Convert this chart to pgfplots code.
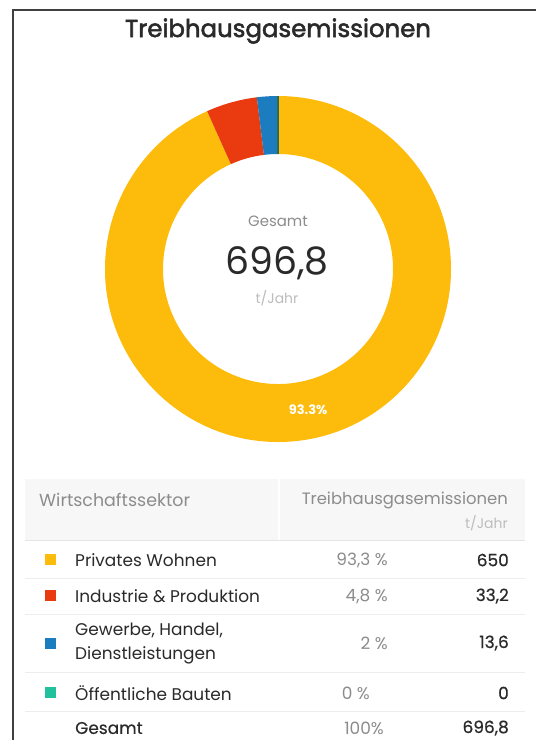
\documentclass[border=0pt]{standalone}
\usepackage{fontspec}
\setmainfont{Poppins}
\usepackage{pgfplots}
\usepackage{pgfplotstable}
\pgfplotsset{compat=1.18}
\definecolor{cYellow}{HTML}{FDBB0C}
\definecolor{cRed}{HTML}{EA3A10}
\definecolor{cBlue}{HTML}{1B7DC0}
\definecolor{cTeal}{HTML}{22C19E}
\definecolor{cTealDark}{HTML}{2E6B4F}
\definecolor{txt}{HTML}{2A2A2A}
\definecolor{gry}{HTML}{8C8C8C}
\definecolor{lgry}{HTML}{BDBDBD}
\newcommand\fs[1]{\fontsize{#1}{#1}\selectfont}
\newcommand\vb{\addfontfeature{FakeBold=0.6}}
\pgfplotstableread{
sector value
Wohnen 650
Industrie 33.2
Gewerbe 13.6
Oeffentlich 0
}\emis
\newcommand\seg[3]{\fill[#1] (axis cs:278,269) ++(#2:173bp) arc[start angle=#2, end angle=#3, radius=173bp] -- ++(#3:-58bp) arc[start angle=#3, end angle=#2, radius=115bp] -- cycle;}
\newcommand\hsep[1]{\draw[black!7] (axis cs:25,#1) -- (axis cs:525,#1);}
\begin{document}%
\begin{tikzpicture}[every node/.style={inner sep=0pt}]
\pgfplotstablegetelem{0}{value}\of\emis \let\vA\pgfplotsretval
\pgfplotstablegetelem{1}{value}\of\emis \let\vB\pgfplotsretval
\pgfplotstablegetelem{2}{value}\of\emis \let\vC\pgfplotsretval
\pgfplotstablegetelem{3}{value}\of\emis \let\vD\pgfplotsretval
\pgfmathsetmacro\total{\vA+\vB+\vC+\vD}
\pgfmathsetmacro\aA{90}
\pgfmathsetmacro\aB{\aA-360*(\vA/\total)}
\pgfmathsetmacro\aC{\aB-360*(\vB/\total)}
\pgfmathsetmacro\aD{\aC-360*(\vC/\total)}
\pgfmathsetmacro\aE{\aD-360*(\vD/\total)}
\pgfmathsetmacro\aMid{(\aA+\aB)/2}
\begin{axis}[
  x=1bp, y=1bp, xmin=0, xmax=536, ymin=0, ymax=740, y dir=reverse,
  enlargelimits=false, hide axis, clip=false]
\fill[white] (axis cs:0,0) rectangle (axis cs:536,740);
% card border
\draw[black!75, line width=1.3bp] (axis cs:13,745) -- (axis cs:13,10) -- (axis cs:540,10);
% title
\node[txt, font=\fs{24.5}\addfontfeature{FakeBold=2.2}] at (axis cs:278,31) {Treibhausgasemissionen};
% donut
\seg{cYellow}{\aA}{\aB}
\seg{cRed}{\aB}{\aC}
\seg{cBlue}{\aC}{\aD}
\draw[cTealDark, line width=1.2bp] (axis cs:278,269) ++(\aE:115bp) -- ++(\aE:58bp);
\path (axis cs:278,269) ++(\aMid:144bp) node[white, font=\bfseries\fs{13}] {93.3\%};
% center texts
\node[gry, font=\fs{15}] at (axis cs:278,221) {Gesamt};
\node[txt, font=\fs{38}] at (axis cs:277,263) {696,8};
\node[lgry, font=\fs{14}] at (axis cs:277,298) {t/Jahr};
% table header
\fill[black!3] (axis cs:25,479) rectangle (axis cs:525,540);
\draw[white, line width=2bp] (axis cs:279,479) -- (axis cs:279,540);
\draw[black!10] (axis cs:25,540) -- (axis cs:525,540);
\node[gry, font=\fs{17.5}, anchor=west] at (axis cs:39,500) {Wirtschaftssektor};
\node[gry, font=\fs{16.5}, anchor=east] at (axis cs:508,500) {Treibhausgasemissionen};
\node[lgry, font=\fs{14}, anchor=east] at (axis cs:508,523) {t/Jahr};
% row separators
\hsep{578}
\hsep{614}
\hsep{672}
\hsep{711}
% legend squares
\addplot[only marks, mark=square*, mark size=5bp, mark options={draw=cYellow, fill=cYellow}] coordinates {(50,559)};
\addplot[only marks, mark=square*, mark size=5bp, mark options={draw=cRed, fill=cRed}] coordinates {(50,595)};
\addplot[only marks, mark=square*, mark size=5bp, mark options={draw=cBlue, fill=cBlue}] coordinates {(50,643)};
\addplot[only marks, mark=square*, mark size=5bp, mark options={draw=cTeal, fill=cTeal}] coordinates {(50,692)};
% row texts
\node[txt, font=\fs{17}, anchor=west] at (axis cs:75,560) {Privates Wohnen};
\node[txt, font=\fs{17}, anchor=west] at (axis cs:75,596) {Industrie \& Produktion};
\node[txt, font=\fs{17}, anchor=west] at (axis cs:75,630) {Gewerbe, Handel,};
\node[txt, font=\fs{17}, anchor=west] at (axis cs:75,655) {Dienstleistungen};
\node[txt, font=\fs{17}, anchor=west] at (axis cs:75,693) {Öffentliche Bauten};
\node[txt, font=\fs{17}\addfontfeature{FakeBold=0.3}, anchor=west] at (axis cs:75,728) {Gesamt};
\node[gry, font=\fs{17}, anchor=east] at (axis cs:388,560) {93,3 \%};
\node[gry, font=\fs{17}, anchor=east] at (axis cs:388,596) {4,8 \%};
\node[gry, font=\fs{17}, anchor=east] at (axis cs:388,643) {2 \%};
\node[gry, font=\fs{17}, anchor=east] at (axis cs:370,693) {0 \%};
\node[gry, font=\fs{17}, anchor=east] at (axis cs:384,728) {100\%};
\node[txt, font=\fs{17}\vb, anchor=east] at (axis cs:509,560) {650};
\node[txt, font=\fs{17}\vb, anchor=east] at (axis cs:509,596) {33,2};
\node[txt, font=\fs{17}\vb, anchor=east] at (axis cs:509,643) {13,6};
\node[txt, font=\fs{17}\vb, anchor=east] at (axis cs:509,693) {0};
\node[txt, font=\fs{17}\vb, anchor=east] at (axis cs:509,728) {696,8};
\end{axis}
\pgfresetboundingbox
\path (0,0) rectangle (536bp,740bp);
\end{tikzpicture}%
\end{document}
